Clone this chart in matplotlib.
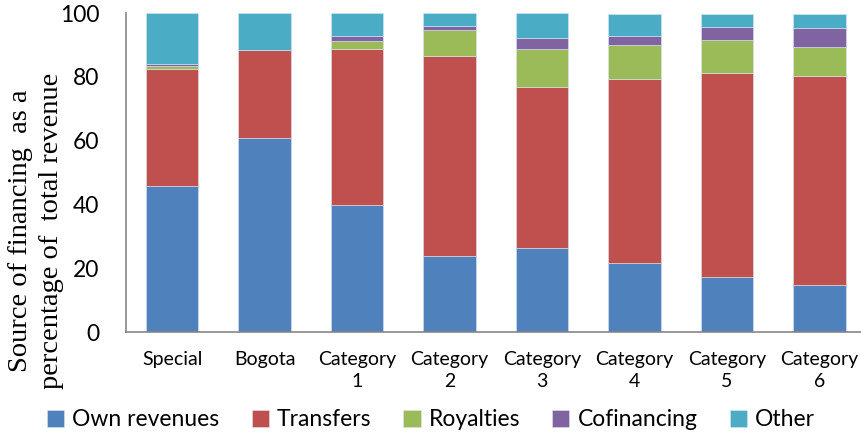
import numpy as np
import matplotlib
matplotlib.use('Agg')
import matplotlib.pyplot as plt

# data (percent of total revenue)
categories = ['Special', 'Bogota', 'Category\n1', 'Category\n2', 'Category\n3',
              'Category\n4', 'Category\n5', 'Category\n6']
own_revenues = [45.8, 60.8, 39.7, 23.8, 26.3, 21.7, 17.4, 14.7]
transfers = [36.7, 27.5, 49.0, 62.9, 50.4, 57.5, 63.9, 65.7]
royalties = [1.0, 0.0, 2.6, 8.0, 12.1, 10.9, 10.3, 8.9]
cofinancing = [0.5, 0.0, 1.5, 1.3, 3.3, 2.6, 3.9, 5.9]
other = [16.0, 11.7, 7.2, 4.0, 7.9, 7.1, 4.1, 4.4]

series = [('Own revenues', own_revenues, '#4F81BD'),
          ('Transfers', transfers, '#C0504D'),
          ('Royalties', royalties, '#9BBB59'),
          ('Cofinancing', cofinancing, '#8064A2'),
          ('Other', other, '#4BACC6')]

plt.rcParams['font.family'] = ['Lato', 'DejaVu Sans']

fig = plt.figure(figsize=(8.62, 4.38), dpi=100)
ax = fig.add_axes([0.146, 0.242, 0.854, 0.728])

x = np.arange(len(categories))
bottom = np.zeros(len(categories))
for name, vals, col in series:
    ax.bar(x, vals, 0.57, bottom=bottom, color=col, label=name,
           edgecolor='#dbe5f1', linewidth=0.4)
    bottom += np.array(vals)

ax.set_xlim(-0.5, 7.46)
ax.set_ylim(0, 100)
ax.set_yticks([0, 20, 40, 60, 80, 100])
ax.set_xticks(x)
ax.set_xticklabels(categories, fontsize=14, linespacing=1.3)
ax.tick_params(axis='y', labelsize=16.5, length=0, pad=19)
ax.tick_params(axis='x', length=0, pad=14)

for s in ['top', 'right']:
    ax.spines[s].set_visible(False)
for s in ['left', 'bottom']:
    ax.spines[s].set_color('#868686')
    ax.spines[s].set_linewidth(1.2)

fig.text(36 / 862, 1 - 231 / 438,
         'Source of financing  as a\npercentage of  total revenue',
         family='Liberation Serif', fontsize=20.5, linespacing=1.3,
         rotation=90, ha='center', va='center', multialignment='center')

fig.legend(loc='center', bbox_to_anchor=(0.5, 1 - 420 / 438), ncol=5, frameon=False,
           fontsize=16.5, handlelength=0.75, handleheight=0.75, handletextpad=0.35,
           columnspacing=1.4)

fig.savefig('out.png', dpi=100)
